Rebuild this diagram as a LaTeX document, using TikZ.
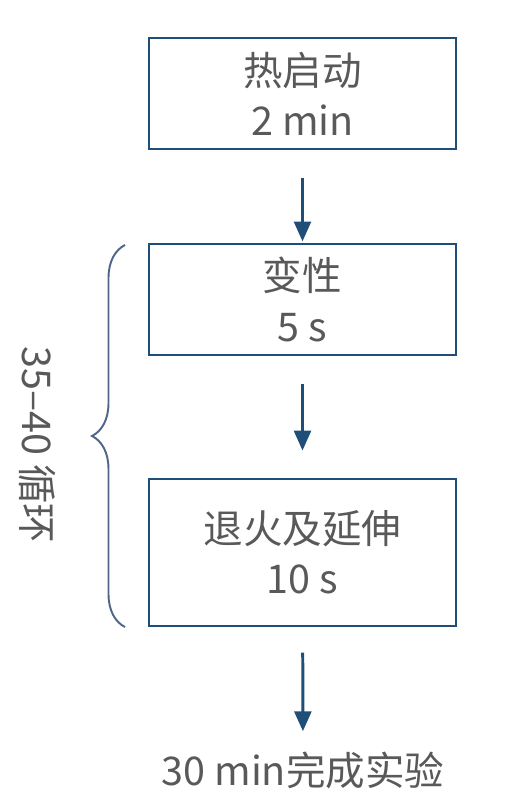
\documentclass[tikz,border=0pt]{standalone}
\usepackage{fontspec}
\setmainfont{Noto Sans CJK SC}
\usetikzlibrary{arrows.meta,decorations.pathreplacing}
\definecolor{boxblue}{HTML}{1F4E79}
\definecolor{bracegray}{HTML}{4F6589}
\definecolor{textgray}{HTML}{595959}

\begin{document}
\begin{tikzpicture}[x=0.02cm, y=-0.02cm,
        every node/.style={text=textgray, font=\fontsize{22.5}{28.5}\selectfont},
        stepbox/.style={draw=boxblue, line width=0.7pt, minimum width=6.14cm,
          align=center, inner sep=0pt},
        arrow/.style={-{Triangle[width=9.6pt, length=11.3pt]}, line width=1.7pt, draw=boxblue}]
        \useasboundingbox (0,0) rectangle (506,805);

        %%% the three steps
        % hot start
        \node[stepbox, minimum height=2.22cm] (hotstart) at (302.5,93.5) {热启动\\2 min};
        % denaturation
        \node[stepbox, minimum height=2.22cm] (denat) at (302.5,299.5) {变性\\5 s};
        % annealing and extension
        \node[stepbox, minimum height=2.94cm] (anneal) at (302.5,552.5) {退火及延伸\\10 s};

        % end of the run
        \node[inner sep=0pt] (finish) at (303,770) {30 min完成实验};

        %%% cycle bracket
        \draw[bracegray, line width=1.1pt, decorate,
          decoration={brace, amplitude=0.66cm}] (125,627) -- (125,245);
        \node[rotate=-90, inner sep=0pt] (cycles) at (37,445) {35–40 循环};

        %%% arrows between the steps
        \draw[arrow, shorten <=29*0.567pt, shorten >=2*0.567pt] (hotstart) -- (denat);
        \draw[arrow, shorten <=29*0.567pt, shorten >=28*0.567pt] (denat) -- (anneal);
        \draw[arrow, shorten <=26*0.567pt, shorten >=20*0.567pt] (anneal) -- (finish);
\end{tikzpicture}
\end{document}
